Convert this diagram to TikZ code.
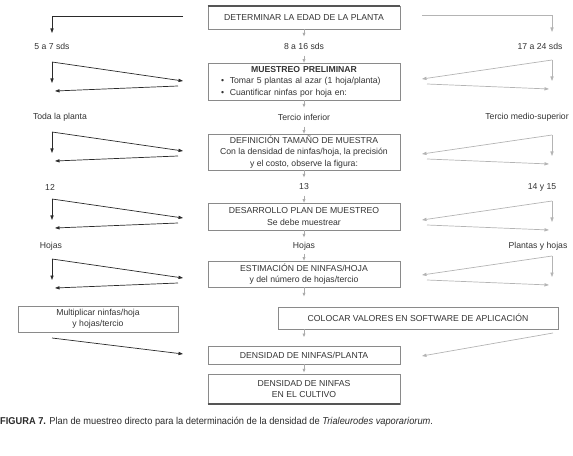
\documentclass[tikz,border=0pt]{standalone}
\usepackage{fontspec}
\setmainfont{Liberation Sans}
\newfontfamily\capfont[FakeStretch=0.93]{Liberation Sans}
\usetikzlibrary{arrows.meta}
\definecolor{txt}{HTML}{333333}
\definecolor{edge}{HTML}{8A8A8A}
\definecolor{thick}{HTML}{555555}
\definecolor{dk}{HTML}{2A2A2A}
\definecolor{lt}{HTML}{B4B4B4}
\definecolor{mid}{HTML}{ABABAB}
\newcommand\lefttri[2]{%
  \coordinate (#1c) at (52,#2);
  \coordinate (#1d) at (52,#2+21);
  \coordinate (#1r) at (183,#2+19);
  \coordinate (#1s) at (178,#2+24);
  \coordinate (#1e) at (55,#2+29);
  \draw[darr] (#1c) -- (#1d);
  \draw[darr] (#1c) -- (#1r);
  \draw[darr] (#1s) -- (#1e);}
\newcommand\righttri[2]{%
  \coordinate (#1c) at (552,#2);
  \coordinate (#1d) at (552,#2+21);
  \coordinate (#1r) at (422,#2+19);
  \coordinate (#1s) at (427,#2+24);
  \coordinate (#1e) at (549,#2+29);
  \draw[larr] (#1c) -- (#1d);
  \draw[larr] (#1c) -- (#1r);
  \draw[larr] (#1s) -- (#1e);}
\begin{document}
\begin{tikzpicture}[x=1bp,y=-1bp,
  every node/.style={font=\fontsize{8.7}{11.5}\selectfont, text=txt, inner sep=0pt},
  box/.style={draw=edge, line width=0.7bp, minimum width=192bp, align=center},
  darr/.style={draw=dk, line width=0.7bp, -{Triangle[length=4.5bp,width=3.2bp]}},
  larr/.style={draw=lt, line width=0.7bp, -{Triangle[length=4.5bp,width=3.2bp]}},
  carr/.style={draw=mid, line width=0.7bp, -{Triangle[length=3.5bp,width=2.8bp]}},
  lab/.style={}]
\useasboundingbox (0,0) rectangle (573,456);

% main boxes
\node[box, minimum height=23bp] (b1) at (304,17.5) {DETERMINAR LA EDAD DE LA PLANTA};
\draw[thick, line width=2bp, draw=thick] (b1.north west) -- (b1.north east);
\node[box, minimum height=37bp, text width=166bp, inner xsep=13bp, align=left] (b2) at (304,81.5)
  {{\centering\bfseries MUESTREO PRELIMINAR\par}%
   \textbullet\ \ Tomar 5 plantas al azar (1 hoja/planta)\par
   \textbullet\ \ Cuantificar ninfas por hoja en:};
\node[box, minimum height=36bp] (b3) at (304,152)
  {DEFINICIÓN TAMAÑO DE MUESTRA\\Con la densidad de ninfas/hoja, la precisión\\y el costo, observe la figura:};
\node[box, minimum height=27bp] (b4) at (304,216.5) {DESARROLLO PLAN DE MUESTREO\\Se debe muestrear};
\node[box, minimum height=26bp] (b5) at (304,274) {ESTIMACIÓN DE NINFAS/HOJA\\y del número de hojas/tercio};
\node[box, minimum width=280bp, minimum height=22bp] (b6) at (418,318) {COLOCAR VALORES EN SOFTWARE DE APLICACIÓN};
\node[box, minimum width=160bp, minimum height=26bp] (m) at (98,319) {Multiplicar ninfas/hoja\\y hojas/tercio};
\node[box, minimum height=18bp] (b7) at (304,355) {DENSIDAD DE NINFAS/PLANTA};
\node[box, minimum height=30bp] (b8) at (304,389) {DENSIDAD DE NINFAS\\EN EL CULTIVO};
\draw[line width=2bp, draw=thick] (b8.south west) -- (b8.south east);

% labels
\node (l1) at (52,46) {5 a 7 sds};
\node (c1) at (304,46) {8 a 16 sds};
\node (r1) at (540,46) {17 a 24 sds};
\node (l2) at (60,117) {Toda la planta};
\node (c2) at (304,117) {Tercio inferior};
\node (r2) at (527,117) {Tercio medio-superior};
\node (l3) at (50,187) {12};
\node (c3) at (304,187) {13};
\node (r3) at (542,187) {14 y 15};
\node (l4) at (51,246) {Hojas};
\node (c4) at (304,246) {Hojas};
\node (r4) at (538,246) {Plantas y hojas};

% centre arrows
\draw[carr] (b1.south) -- ([yshift=-7bp]b1.south);
\draw[carr] ([yshift=7bp]b2.north) -- (b2.north);
\draw[carr] (b2.south) -- ([yshift=-7bp]b2.south);
\draw[carr] ([yshift=7bp]b3.north) -- (b3.north);
\draw[carr] (b3.south) -- ([yshift=-7bp]b3.south);
\draw[carr] ([yshift=7bp]b4.north) -- (b4.north);
\draw[carr] (b4.south) -- ([yshift=-7bp]b4.south);
\draw[carr] ([yshift=7bp]b5.north) -- (b5.north);
\draw[carr] (b5.south) -- ([yshift=-9bp]b5.south);
\coordinate (k6) at (304,329);
\draw[carr] (k6) -- ++(0,8);
\draw[carr] (b7.south) -- ([yshift=-8bp]b7.south);

% top connectors
\coordinate (tl) at (183,16); \coordinate (tlb) at (52,33);
\draw[darr] (tl) -| (tlb);
\coordinate (tr) at (422,15); \coordinate (trb) at (552,32);
\draw[larr] (tr) -| (trb);

% triangles
\lefttri{la}{62}
\lefttri{lb}{132}
\lefttri{lc}{199}
\lefttri{ld}{259}
\righttri{ra}{60}
\righttri{rb}{135}
\righttri{rc}{201}
\righttri{rd}{256}

% bottom connectors
\coordinate (ma) at (52,338); \coordinate (mb) at (183,354);
\draw[darr] (ma) -- (mb);
\coordinate (na) at (553,333); \coordinate (nb) at (422,356);
\draw[larr] (na) -- (nb);

% caption
\node[anchor=west, font=\capfont\fontsize{10}{12}\selectfont, text=dk] (cap) at (0,422)
  {\textbf{FIGURA 7.} Plan de muestreo directo para la determinación de la densidad de \textit{Trialeurodes vaporariorum}.};
\end{tikzpicture}
\end{document}
